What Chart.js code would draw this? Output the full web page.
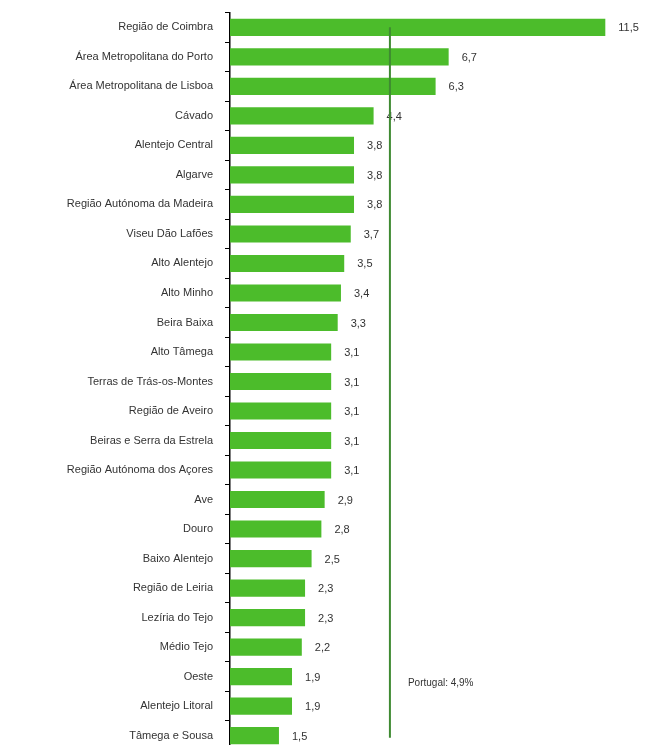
<!DOCTYPE html>
<html>
<head>
<meta charset="utf-8">
<script src="https://cdn.jsdelivr.net/npm/chart.js@4/dist/chart.umd.min.js"></script>
<style>
    html, body { margin: 0; padding: 0; background: #fff; overflow: hidden; }
    #wrap { width: 651px; height: 745px; overflow: hidden; }
    #nuts-chart { margin-top: -6px; display: block; }
</style>
</head>
<body>
<div id="wrap"><canvas id="nuts-chart" width="651" height="775"></canvas></div>
<script>
const regions = [
    "Região de Coimbra", "Área Metropolitana do Porto", "Área Metropolitana de Lisboa",
    "Cávado", "Alentejo Central", "Algarve", "Região Autónoma da Madeira",
    "Viseu Dão Lafões", "Alto Alentejo", "Alto Minho", "Beira Baixa", "Alto Tâmega",
    "Terras de Trás-os-Montes", "Região de Aveiro", "Beiras e Serra da Estrela",
    "Região Autónoma dos Açores", "Ave", "Douro", "Baixo Alentejo", "Região de Leiria",
    "Lezíria do Tejo", "Médio Tejo", "Oeste", "Alentejo Litoral", "Tâmega e Sousa"
];
const values = [
    11.5, 6.7, 6.3, 4.4, 3.8, 3.8, 3.8, 3.7, 3.5, 3.4, 3.3, 3.1, 3.1,
    3.1, 3.1, 3.1, 2.9, 2.8, 2.5, 2.3, 2.3, 2.2, 1.9, 1.9, 1.5
];
const portugal = 4.9;
const portugalLabel = "Portugal: 4,9%";

function fmt(v) {
    return v.toFixed(1).replace(".", ",");
}

// value labels at the end of each bar
const valueLabels = {
    id: "valueLabels",
    afterDatasetsDraw(chart) {
        const ctx = chart.ctx;
        const meta = chart.getDatasetMeta(0);
        ctx.save();
        ctx.font = "11px 'Liberation Sans', sans-serif";
        ctx.fillStyle = "#333";
        ctx.textBaseline = "middle";
        ctx.textAlign = "left";
        meta.data.forEach((bar, i) => {
            ctx.fillText(fmt(values[i]), bar.x + 13, bar.y + 1);
        });
        ctx.restore();
    }
};

// national average line
const avgLine = {
    id: "avgLine",
    afterDatasetsDraw(chart) {
        const ctx = chart.ctx;
        const x = chart.scales.x.getPixelForValue(portugal);
        const y0 = chart.scales.y.getPixelForValue(0);
        const y1 = chart.scales.y.getPixelForValue(regions.length - 1);
        ctx.save();
        ctx.strokeStyle = "#3f8a32";
        ctx.lineWidth = 2;
        ctx.beginPath();
        ctx.moveTo(x, y0);
        ctx.lineTo(x, y1 + 2);
        ctx.stroke();
        ctx.font = "10px 'Liberation Sans', sans-serif";
        ctx.fillStyle = "#333";
        ctx.textBaseline = "middle";
        ctx.fillText(portugalLabel, x + 18, chart.scales.y.getPixelForValue(22) + 7);
        ctx.restore();
    }
};

new Chart("nuts-chart", {
    type: "bar",
    data: {
        labels: regions,
        datasets: [
            {
                data: values,
                backgroundColor: "#4cbc2b",
                barPercentage: 0.58,
                categoryPercentage: 1.0,
            },
        ]
    },
    plugins: [valueLabels, avgLine],
    options: {
        indexAxis: "y",
        responsive: false,
        animation: false,
        layout: { padding: { top: 6, left: 0, right: 0, bottom: 0 } },
        plugins: {
            legend: { display: false },
            tooltip: { enabled: false },
        },
        scales: {
            x: {
                display: false,
                min: 0,
                max: 12.9,
            },
            y: {
                afterFit: function (scale) { scale.width = 230; },
                grid: {
                    offset: true,
                    drawOnChartArea: false,
                    tickLength: 5,
                    color: "#000",
                },
                border: { color: "#000", width: 1.5 },
                ticks: {
                    color: "#333",
                    padding: 12,
                    font: { family: "'Liberation Sans', sans-serif", size: 11 },
                },
            }
        }
    }
});
</script>
</body>
</html>
